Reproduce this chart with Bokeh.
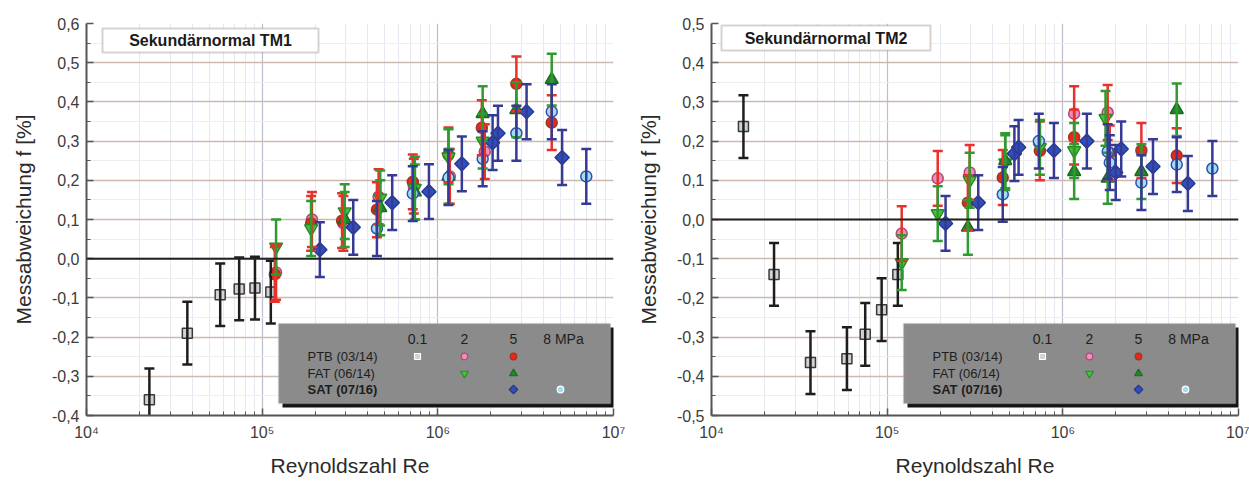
import numpy as np
from bokeh.plotting import figure
from bokeh.models import (ColumnDataSource, Whisker, TeeHead, Span, Label, BoxAnnotation,
                          FixedTicker, CustomJSTickFormatter, Range1d)
from bokeh.layouts import row
from bokeh.embed import file_html
from bokeh.resources import INLINE

# ---------------- data (Re, deviation f in %, uncertainty in %) ----------------
# Sekundärnormal TM1
tm1_ptb01_re = [2.28e4, 3.75e4, 5.77e4, 7.4e4, 9.1e4, 1.12e5]
tm1_ptb01_f = [-0.36, -0.19, -0.092, -0.077, -0.075, -0.085]
tm1_ptb01_u = [0.08, 0.08, 0.08, 0.08, 0.08, 0.08]

tm1_ptb2_re = [1.2e5, 1.92e5, 2.9e5, 4.6e5, 7.3e5, 1.17e6, 1.85e6]
tm1_ptb2_f = [-0.035, 0.10, 0.09, 0.158, 0.185, 0.21, 0.273]
tm1_ptb2_u = [0.07, 0.07, 0.07, 0.07, 0.07, 0.07, 0.07]

tm1_ptb5_re = [1.18e5, 1.9e5, 2.85e5, 4.5e5, 7.2e5, 1.15e6, 1.78e6, 2.8e6, 4.45e6]
tm1_ptb5_f = [-0.04, 0.09, 0.097, 0.125, 0.196, 0.265, 0.334, 0.446, 0.347]
tm1_ptb5_u = [0.07, 0.07, 0.07, 0.07, 0.07, 0.07, 0.07, 0.07, 0.07]

tm1_fat2_re = [1.2e5, 1.9e5, 2.95e5, 4.7e5, 7.4e5, 1.15e6, 1.8e6]
tm1_fat2_f = [0.03, 0.077, 0.12, 0.155, 0.18, 0.26, 0.30]
tm1_fat2_u = [0.07, 0.07, 0.07, 0.07, 0.08, 0.07, 0.07]

tm1_fat5_re = [2.95e5, 4.7e5, 7.4e5, 1.15e6, 1.8e6, 2.8e6, 4.45e6]
tm1_fat5_f = [0.10, 0.13, 0.17, 0.21, 0.37, 0.38, 0.457]
tm1_fat5_u = [0.07, 0.07, 0.07, 0.07, 0.07, 0.07, 0.066]

tm1_sat5_re = [2.13e5, 3.3e5, 5.5e5, 8.9e5, 1.37e6, 2.05e6, 2.2e6, 3.2e6, 5.1e6]
tm1_sat5_f = [0.023, 0.08, 0.143, 0.171, 0.242, 0.296, 0.32, 0.375, 0.258]
tm1_sat5_u = [0.07, 0.07, 0.07, 0.07, 0.07, 0.07, 0.07, 0.07, 0.07]

tm1_sat8_re = [4.5e5, 7.2e5, 1.15e6, 1.8e6, 2.8e6, 4.45e6, 7.0e6]
tm1_sat8_f = [0.077, 0.166, 0.207, 0.255, 0.32, 0.375, 0.21]
tm1_sat8_u = [0.07, 0.07, 0.07, 0.07, 0.07, 0.07, 0.07]

# Sekundärnormal TM2
tm2_ptb01_re = [1.52e4, 2.27e4, 3.66e4, 5.9e4, 7.5e4, 9.3e4, 1.15e5]
tm2_ptb01_f = [0.237, -0.14, -0.365, -0.355, -0.293, -0.23, -0.14]
tm2_ptb01_u = [0.08, 0.08, 0.08, 0.08, 0.08, 0.08, 0.08]

tm2_ptb2_re = [1.21e5, 1.94e5, 2.95e5, 1.16e6, 1.8e6]
tm2_ptb2_f = [-0.036, 0.105, 0.12, 0.27, 0.273]
tm2_ptb2_u = [0.07, 0.07, 0.07, 0.07, 0.07]

tm2_ptb5_re = [2.88e5, 4.55e5, 7.4e5, 1.16e6, 1.85e6, 2.8e6, 4.45e6]
tm2_ptb5_f = [0.043, 0.107, 0.175, 0.21, 0.17, 0.176, 0.163]
tm2_ptb5_u = [0.07, 0.07, 0.075, 0.07, 0.07, 0.07, 0.07]

tm2_fat2_re = [1.21e5, 1.94e5, 2.95e5, 4.7e5, 7.4e5, 1.16e6, 1.75e6]
tm2_fat2_f = [-0.11, 0.015, 0.10, 0.145, 0.184, 0.176, 0.258]
tm2_fat2_u = [0.07, 0.07, 0.07, 0.07, 0.07, 0.07, 0.07]

tm2_fat5_re = [2.88e5, 4.7e5, 1.16e6, 1.8e6, 2.8e6, 4.45e6]
tm2_fat5_f = [-0.02, 0.15, 0.122, 0.105, 0.122, 0.28]
tm2_fat5_u = [0.07, 0.07, 0.07, 0.065, 0.07, 0.067]

tm2_sat5_re = [2.15e5, 3.3e5, 5.3e5, 5.6e5, 8.9e5, 1.37e6, 2.0e6, 2.15e6, 3.26e6, 5.15e6]
tm2_sat5_f = [-0.01, 0.043, 0.168, 0.184, 0.176, 0.20, 0.12, 0.18, 0.135, 0.092]
tm2_sat5_u = [0.07, 0.07, 0.07, 0.07, 0.07, 0.07, 0.07, 0.07, 0.07, 0.07]

tm2_sat8_re = [4.55e5, 7.3e5, 1.8e6, 1.85e6, 2.8e6, 4.45e6, 7.1e6]
tm2_sat8_f = [0.064, 0.20, 0.173, 0.145, 0.094, 0.14, 0.13]
tm2_sat8_u = [0.07, 0.07, 0.07, 0.07, 0.07, 0.07, 0.07]

legend_columns = ["0.1", "2", "5", "8 MPa"]
legend_rows = ["PTB (03/14)", "FAT (06/14)", "SAT (07/16)"]
x_ticks = [1e4, 1e5, 1e6, 1e7]
tm1_y_ticks = [-0.4, -0.3, -0.2, -0.1, 0.0, 0.1, 0.2, 0.3, 0.4, 0.5, 0.6]
tm2_y_ticks = [-0.5, -0.4, -0.3, -0.2, -0.1, 0.0, 0.1, 0.2, 0.3, 0.4, 0.5]

# ---------------- styles ----------------
STY = {
    "ptb01": dict(marker="square", size=10, angle=0, fill="#d2d2d2", line="#3a3a3a", bar="#1e1e1e"),
    "ptb2": dict(marker="circle", size=11, angle=0, fill="#ea8fc2", line="#b04a70", bar="#e8312a"),
    "ptb5": dict(marker="circle", size=11, angle=0, fill="#e8261c", line="#9a3a20", bar="#e8312a"),
    "fat2": dict(marker="inverted_triangle", size=13, angle=0, fill="#46c23e", line="#2a8a2a", bar="#2f9a2f"),
    "fat5": dict(marker="triangle", size=13, angle=0, fill="#1f8a2a", line="#1a6a20", bar="#2f9a2f"),
    "sat5": dict(marker="square", size=10, angle=np.pi / 4, fill="#2f4fc0", line="#283a8a", bar="#353a94"),
    "sat8": dict(marker="circle", size=11, angle=0, fill="#a2def3", line="#3050b0", bar="#353a94"),
}

FONT = "Liberation Sans"
FRAME_W = 527
FRAME_H = 392
TOP = 23


def make_chart(title, yr, yticks, series, bl, br, title_box):
    p = figure(width=bl + FRAME_W + br, height=481, x_axis_type="log",
               x_range=Range1d(1e4, 1e7), y_range=Range1d(*yr),
               output_backend="svg", toolbar_location=None,
               min_border_left=bl, min_border_right=br,
               min_border_top=TOP, min_border_bottom=481 - TOP - FRAME_H)
    p.outline_line_color = None
    p.background_fill_color = "white"
    p.border_fill_color = "white"

    minors = [k * 10 ** e for e in range(4, 7) for k in range(2, 10)]
    p.xaxis.ticker = FixedTicker(ticks=x_ticks, minor_ticks=minors)
    yminor = [round(a + 0.05, 3) for a in yticks[:-1]]
    p.yaxis.ticker = FixedTicker(ticks=yticks, minor_ticks=yminor)
    p.xaxis.formatter = CustomJSTickFormatter(code="""
        const e = Math.round(Math.log10(tick));
        const sup = {4:'\u2074', 5:'\u2075', 6:'\u2076', 7:'\u2077'};
        return '10' + (sup[e] || e);""")
    p.yaxis.formatter = CustomJSTickFormatter(code="""
        if (Math.abs(tick) < 1e-9) return '0,0';
        return tick.toFixed(1).replace('.', ',');""")

    for ax in (p.xaxis, p.yaxis):
        ax.axis_line_color = "#555555"
        ax.axis_line_width = 2
        ax.major_tick_line_color = "#555555"
        ax.minor_tick_line_color = "#555555"
        ax.major_tick_line_width = 1.5
        ax.major_tick_in = 7
        ax.major_tick_out = 0
        ax.minor_tick_in = 4
        ax.minor_tick_out = 0
        ax.major_label_text_font = FONT
        ax.major_label_text_font_size = "16px"
        ax.major_label_text_color = "#3c3c3c"
        ax.axis_label_text_font = FONT
        ax.axis_label_text_font_size = "21px"
        ax.axis_label_text_font_style = "normal"
        ax.axis_label_text_color = "#2a2a2a"
    p.xaxis.axis_label = "Reynoldszahl Re"
    p.yaxis.axis_label = "Messabweichung f [%]"
    p.xaxis.major_label_standoff = 8
    p.xaxis.axis_label_standoff = 10
    p.yaxis.major_label_standoff = 7
    p.yaxis.axis_label_standoff = 14

    p.xgrid.grid_line_color = "#b9bfcc"
    p.xgrid.grid_line_width = 1.2
    p.xgrid.minor_grid_line_color = "#e6e9f0"
    p.ygrid.grid_line_color = "#cdb9b2"
    p.ygrid.grid_line_width = 1.5
    p.ygrid.minor_grid_line_color = "#efeded"

    p.add_layout(Span(location=0, dimension="width", line_color="#222222", line_width=2))

    for key, re, f, u in series:
        s = STY[key]
        re = np.asarray(re, float)
        f = np.asarray(f, float)
        u = np.asarray(u, float)
        src = ColumnDataSource(dict(x=re, y=f, lo=f - u, hi=f + u))
        w = Whisker(source=src, base="x", lower="lo", upper="hi", dimension="height",
                    line_color=s["bar"], line_width=2.5, level="glyph",
                    upper_head=TeeHead(size=10, line_color=s["bar"], line_width=2.5),
                    lower_head=TeeHead(size=10, line_color=s["bar"], line_width=2.5))
        p.add_layout(w)
        p.scatter("x", "y", source=src, marker=s["marker"], size=s["size"], angle=s["angle"],
                  fill_color=s["fill"], line_color=s["line"], line_width=1.5)

    # title box
    tl, tr, tb, tt = title_box
    p.add_layout(BoxAnnotation(left=tl, right=tr, bottom=tb, top=tt,
                               left_units="screen", right_units="screen",
                               bottom_units="screen", top_units="screen",
                               fill_color="white", fill_alpha=1,
                               line_color="#7a6864", line_width=2))
    p.add_layout(Label(x=(tl + tr) / 2, y=(tb + tt) / 2, x_units="screen", y_units="screen",
                       text=title, text_font=FONT, text_font_size="16px",
                       text_font_style="bold", text_color="#1a1a1a",
                       text_align="center", text_baseline="middle"))

    # custom legend box (screen units relative to plot frame)
    lg_l, lg_r, lg_b, lg_t = 192, 527, 12, 92
    p.add_layout(BoxAnnotation(left=lg_l + 4, right=lg_r + 1, bottom=lg_b - 4, top=lg_t - 4,
                               left_units="screen", right_units="screen",
                               bottom_units="screen", top_units="screen",
                               fill_color="#141414", fill_alpha=1, line_color=None))
    p.add_layout(BoxAnnotation(left=lg_l, right=lg_r - 3, bottom=lg_b, top=lg_t,
                               left_units="screen", right_units="screen",
                               bottom_units="screen", top_units="screen",
                               fill_color="#8b8b8b", fill_alpha=1,
                               line_color="#c4c4c4", line_width=1.5))
    col_x = [331, 378, 427, 477]
    head_y = 77
    row_y = [59, 42, 26]
    for cx, txt in zip(col_x, legend_columns):
        p.add_layout(Label(x=cx, y=head_y, x_units="screen", y_units="screen", text=txt,
                           text_font=FONT, text_font_size="14px", text_color="#1e1e1e",
                           text_align="center", text_baseline="middle"))
    for ry, txt, bold in zip(row_y, legend_rows, [False, False, True]):
        p.add_layout(Label(x=221, y=ry, x_units="screen", y_units="screen", text=txt,
                           text_font=FONT, text_font_size="13px",
                           text_font_style="bold" if bold else "normal",
                           text_color="#1e1e1e", text_align="left", text_baseline="middle"))

    def sx(v):
        return 10 ** (4 + 3 * v / FRAME_W)

    def sy(v):
        return yr[0] + (yr[1] - yr[0]) * v / FRAME_H

    cells = [("ptb01", 331, row_y[0]), ("ptb2", 378, row_y[0]), ("ptb5", 427, row_y[0]),
             ("fat2", 378, row_y[1]), ("fat5", 427, row_y[1]),
             ("sat5", 427, row_y[2]), ("sat8", 474, row_y[2])]
    for key, cx, cy in cells:
        s = STY[key]
        r = p.scatter([sx(cx)], [sy(cy)], marker=s["marker"], size=max(6, s["size"] * 0.6),
                      angle=s["angle"], fill_color=s["fill"],
                      line_color=s["line"] if key not in ("ptb01", "sat8") else "#ffffff",
                      line_width=1.2)
        r.level = "overlay"
    return p


series1 = [
    ("ptb01", tm1_ptb01_re, tm1_ptb01_f, tm1_ptb01_u),
    ("ptb2", tm1_ptb2_re, tm1_ptb2_f, tm1_ptb2_u),
    ("ptb5", tm1_ptb5_re, tm1_ptb5_f, tm1_ptb5_u),
    ("fat2", tm1_fat2_re, tm1_fat2_f, tm1_fat2_u),
    ("fat5", tm1_fat5_re, tm1_fat5_f, tm1_fat5_u),
    ("sat5", tm1_sat5_re, tm1_sat5_f, tm1_sat5_u),
    ("sat8", tm1_sat8_re, tm1_sat8_f, tm1_sat8_u),
]
series2 = [
    ("ptb01", tm2_ptb01_re, tm2_ptb01_f, tm2_ptb01_u),
    ("ptb2", tm2_ptb2_re, tm2_ptb2_f, tm2_ptb2_u),
    ("ptb5", tm2_ptb5_re, tm2_ptb5_f, tm2_ptb5_u),
    ("fat2", tm2_fat2_re, tm2_fat2_f, tm2_fat2_u),
    ("fat5", tm2_fat5_re, tm2_fat5_f, tm2_fat5_u),
    ("sat5", tm2_sat5_re, tm2_sat5_f, tm2_sat5_u),
    ("sat8", tm2_sat8_re, tm2_sat8_f, tm2_sat8_u),
]

p1 = make_chart("Sekundärnormal TM1", (-0.4, 0.6), tm1_y_ticks, series1, 86, 15, (16, 232, 363, 387))
p2 = make_chart("Sekundärnormal TM2", (-0.5, 0.5), tm2_y_ticks, series2, 83, 11, (10, 219, 365, 390))

layout = row(p1, p2)
open("out.html", "w").write(file_html(layout, INLINE))
